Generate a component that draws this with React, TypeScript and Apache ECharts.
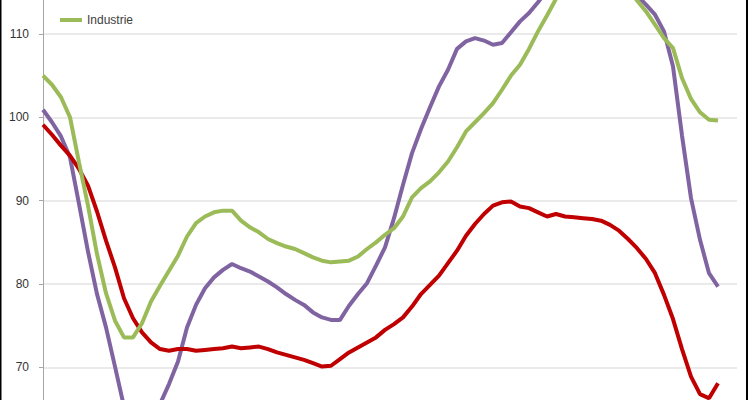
import React, { useEffect, useRef } from "react";
import * as echarts from "echarts";

const yTicks = [60, 70, 80, 90, 100, 110, 120];

const industrie = [
  105.0, 103.9, 102.4, 100.0, 94.6, 89.4, 83.6, 78.9, 75.6, 73.6,
  73.6, 75.3, 77.9, 79.8, 81.6, 83.4, 85.7, 87.3, 88.1, 88.6,
  88.8, 88.8, 87.6, 86.8, 86.2, 85.4, 84.9, 84.5, 84.2, 83.7,
  83.2, 82.8, 82.6, 82.7, 82.8, 83.3, 84.2, 85.0, 85.9, 86.7,
  88.1, 90.4, 91.5, 92.3, 93.4, 94.7, 96.4, 98.3, 99.4, 100.5,
  101.7, 103.3, 105.0, 106.3, 108.2, 110.3, 112.2, 114.2, 116.0, 117.5,
  118.5, 119.0, 119.0, 118.3, 117.2, 115.6, 114.0, 112.7, 111.1, 109.5,
  108.3, 104.7, 102.2, 100.6, 99.7, 99.6,
];

const purple = [
  100.9, 99.4, 97.7, 95.2, 89.6, 83.9, 78.8, 74.8, 70.1, 65.3,
  62.5, 61.5, 62.5, 65.6, 68.0, 70.7, 74.8, 77.5, 79.5, 80.8,
  81.7, 82.4, 81.9, 81.5, 80.9, 80.3, 79.6, 78.8, 78.1, 77.5,
  76.6, 76.0, 75.7, 75.7, 77.4, 78.8, 80.1, 82.2, 84.4, 87.9,
  91.9, 95.7, 98.6, 101.2, 103.7, 105.7, 108.2, 109.1, 109.5, 109.2,
  108.7, 108.9, 110.2, 111.5, 112.5, 113.8, 115.2, 116.5, 117.6, 118.5,
  119.2, 119.5, 119.5, 119.0, 118.0, 116.5, 114.6, 113.5, 112.3, 110.3,
  106.1, 97.8, 90.3, 85.3, 81.3, 79.7,
];

const red = [
  99.1, 97.9, 96.6, 95.4, 93.8, 91.8, 88.7, 85.2, 82.0, 78.3,
  75.9, 74.2, 73.0, 72.2, 72.0, 72.2, 72.2, 72.0, 72.1, 72.2,
  72.3, 72.5, 72.3, 72.4, 72.5, 72.2, 71.8, 71.5, 71.2, 70.9,
  70.5, 70.1, 70.2, 71.0, 71.8, 72.4, 73.0, 73.6, 74.5, 75.2,
  76.0, 77.3, 78.8, 79.9, 81.0, 82.5, 84.0, 85.8, 87.2, 88.4,
  89.4, 89.8, 89.9, 89.3, 89.1, 88.6, 88.1, 88.4, 88.1, 88.0,
  87.9, 87.8, 87.6, 87.1, 86.4, 85.4, 84.3, 83.0, 81.3, 78.7,
  75.8, 72.2, 68.9, 66.8, 66.3, 68.1,
];

const toPairs = (arr: number[]) => arr.map((v, i) => [i, v]);

const OFFSET = 50; // chart canvas extends above and below the visible 400px window

export default function App() {
  const ref = useRef<HTMLDivElement>(null);
  useEffect(() => {
    if (!ref.current) return;
    const chart = echarts.init(ref.current, undefined, { renderer: "svg" });
    chart.setOption({
      animation: false,
      backgroundColor: "#ffffff",
      grid: {
        left: 43,
        right: 13,
        top: 0.5,
        bottom: 1.2,
        containLabel: false,
        outerBoundsMode: "none",
      },
      legend: {
        data: ["Industrie"],
        left: 55,
        top: 9 + OFFSET,
        icon: "rect",
        itemWidth: 22,
        itemHeight: 4,
        textStyle: { color: "#404040", fontSize: 12, fontFamily: "Liberation Sans" },
      },
      xAxis: {
        type: "value",
        min: 0,
        max: 77.11,
        show: false,
        splitLine: { show: false },
      },
      yAxis: {
        type: "value",
        min: yTicks[0],
        max: yTicks[yTicks.length - 1],
        interval: 10,
        axisLine: { show: true, lineStyle: { color: "#a6a6a6", width: 1 } },
        axisTick: { show: true, length: 4, lineStyle: { color: "#a6a6a6" } },
        axisLabel: {
          margin: 14,
          color: "#333333",
          fontSize: 12,
          fontFamily: "Liberation Sans",
          showMinLabel: false,
          showMaxLabel: false,
        },
        splitLine: { show: true, lineStyle: { color: "#e3e3e3", width: 1.5 } },
      },
      series: [
        {
          name: "Purple",
          type: "line",
          data: toPairs(purple),
          symbol: "none",
          lineStyle: { color: "#8064A2", width: 4 },
          itemStyle: { color: "#8064A2" },
          z: 2,
        },
        {
          name: "Red",
          type: "line",
          data: toPairs(red),
          symbol: "none",
          lineStyle: { color: "#C00000", width: 4 },
          itemStyle: { color: "#C00000" },
          z: 3,
        },
        {
          name: "Industrie",
          type: "line",
          data: toPairs(industrie),
          symbol: "none",
          lineStyle: { color: "#9BBB59", width: 4 },
          itemStyle: { color: "#9BBB59" },
          z: 4,
        },
      ],
      graphic: [
        { type: "rect", left: 0, top: OFFSET, shape: { width: 1.5, height: 400 }, style: { fill: "#000000" }, z: 10 },
        { type: "rect", left: 746, top: OFFSET, shape: { width: 2, height: 400 }, style: { fill: "#000000" }, z: 10 },
      ],
    });
    return () => chart.dispose();
  }, []);
  return (
    <div
      style={{
        position: "absolute",
        left: 0,
        top: 0,
        width: 750,
        height: 400,
        overflow: "hidden",
        background: "#ffffff",
      }}
    >
      <div
        ref={ref}
        style={{ position: "absolute", left: 0, top: -OFFSET, width: 750, height: 502 }}
      />
    </div>
  );
}
